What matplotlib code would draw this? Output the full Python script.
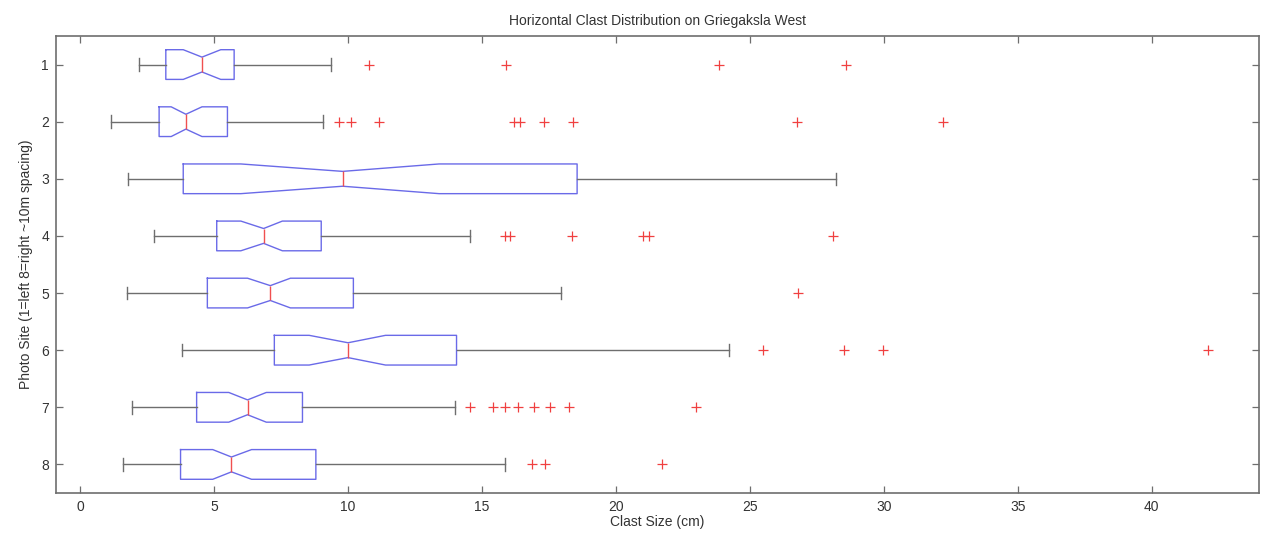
import matplotlib
matplotlib.use('Agg')
import matplotlib.pyplot as plt

plt.rcParams['font.family'] = ['Liberation Sans', 'DejaVu Sans']

# 数据
sites = [1, 2, 3, 4, 5, 6, 7, 8]
whislo = [2.2, 1.15, 1.8, 2.75, 1.75, 3.8, 1.95, 1.6]
q1 = [3.2, 2.95, 3.85, 5.1, 4.75, 7.25, 4.35, 3.75]
med = [4.55, 3.95, 9.8, 6.85, 7.1, 10.0, 6.25, 5.65]
q3 = [5.75, 5.5, 18.55, 9.0, 10.2, 14.05, 8.3, 8.8]
whishi = [9.35, 9.05, 28.2, 14.55, 17.95, 24.2, 14.0, 15.85]
cilo = [3.85, 3.4, 6.0, 6.0, 6.25, 8.55, 5.55, 4.95]
cihi = [5.25, 4.55, 13.4, 7.55, 7.85, 11.4, 6.95, 6.4]
fliers = [
    [10.8, 15.9, 23.85, 28.6],
    [9.65, 10.1, 11.15, 16.2, 16.4, 17.3, 18.4, 26.75, 32.2],
    [],
    [15.85, 16.05, 18.35, 21.0, 21.25, 28.1],
    [26.8],
    [25.5, 28.5, 29.95, 42.1],
    [14.55, 15.4, 15.85, 16.35, 16.95, 17.55, 18.25, 23.0],
    [16.85, 17.35, 21.7],
]
x_ticks = [0, 5, 10, 15, 20, 25, 30, 35, 40]

stats = []
for i in range(len(sites)):
    stats.append({'label': str(sites[i]), 'whislo': whislo[i], 'q1': q1[i], 'med': med[i],
                  'q3': q3[i], 'whishi': whishi[i], 'cilo': cilo[i], 'cihi': cihi[i],
                  'fliers': fliers[i]})

fig = plt.figure(figsize=(12.66, 5.42), dpi=100)
ax = fig.add_axes([0.0442, 0.0904, 0.9503, 0.8432])

ax.bxp(stats, positions=sites, vert=False, widths=0.52, shownotches=True,
       capwidths=0.22,
       boxprops=dict(color='#6a6ae8', linewidth=1.0),
       medianprops=dict(color='#f05050', linewidth=1.0),
       whiskerprops=dict(color='#6e6e6e', linewidth=1.0),
       capprops=dict(color='#6e6e6e', linewidth=1.0),
       flierprops=dict(marker='+', markeredgecolor='#f04040', markersize=7,
                       markeredgewidth=0.9, linestyle='none'))

ax.set_xlim(-0.9, 44.0)
ax.set_ylim(8.5, 0.5)
ax.set_xticks(x_ticks)
ax.set_xticklabels([str(t) for t in x_ticks])
ax.set_yticks(sites)
ax.set_yticklabels([str(s) for s in sites])

for sp in ax.spines.values():
    sp.set_color('#6e6e6e')
    sp.set_linewidth(1.2)
ax.tick_params(direction='in', length=5, width=0.9, color='#6e6e6e',
               top=True, right=True, labelsize=10, labelcolor='#333333', pad=5)

ax.set_title('Horizontal Clast Distribution on Griegaksla West', fontsize=10,
             color='#333333', pad=8)
ax.set_xlabel('Clast Size (cm)', fontsize=10, color='#333333', labelpad=1)
ax.set_ylabel('Photo Site (1=left 8=right ~10m spacing)', fontsize=10,
              color='#333333', labelpad=6)

fig.savefig('out.png', dpi=100)
